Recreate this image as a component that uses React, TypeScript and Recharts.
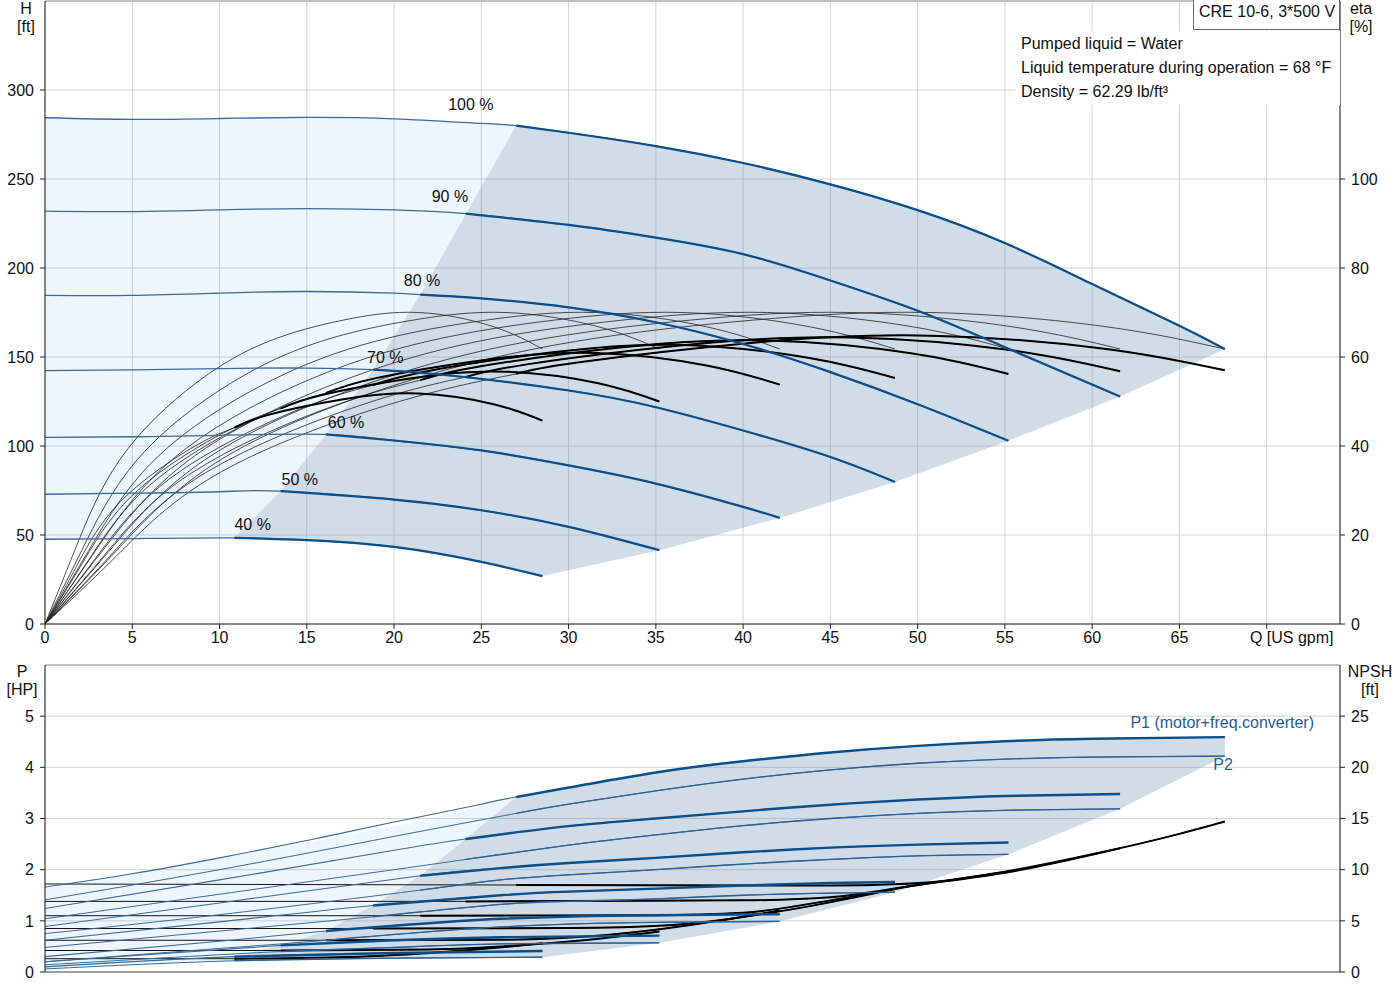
import React from 'react';
import {
  ComposedChart, Line, Area, XAxis, YAxis, CartesianGrid, ReferenceLine, ReferenceDot,
} from 'recharts';

const FONT = 'Arial, "Liberation Sans", sans-serif';
const BLUE = '#0b4f8a';
const BLUE_THIN = '#3a6a98';

// axis ticks
const qTicks = [0, 5, 10, 15, 20, 25, 30, 35, 40, 45, 50, 55, 60, 65, 70];
const hTicks = [0, 50, 100, 150, 200, 250, 300];
const etaTicks = [0, 20, 40, 60, 80, 100];
const pTicks = [0, 1, 2, 3, 4, 5];
const npshTicks = [0, 5, 10, 15, 20, 25];

// speed labels on the head curves
const speedNames = ['100 %', '90 %', '80 %', '70 %', '60 %', '50 %', '40 %'];
const labelQ = [24.4, 23.2, 21.6, 19.5, 17.25, 14.6, 11.9];
const labelH = [292, 240, 193, 150, 113, 81, 56];

// head curves (Q, H), split = index where the operating range starts
const hQ100 = [0, 5, 10, 15, 20, 25, 27, 30, 35, 40, 45, 50, 55, 60, 65, 67.6];
const hH100 = [284.4, 283.5, 284, 284.6, 283.8, 281.2, 280, 276, 268.5, 259, 247, 232.5, 214, 191, 167.5, 154.5];
const hQ90 = [0, 5, 10, 15, 20, 24.1, 30, 35, 40, 45, 50, 55, 61.6];
const hH90 = [232, 231.7, 232.6, 233.4, 232.6, 230.5, 224.2, 217.1, 207.8, 193, 176, 155.5, 127.8];
const hQ80 = [0, 5, 10, 15, 20, 21.5, 25, 30, 35, 40, 45, 50, 55.2];
const hH80 = [184.6, 184.6, 185.9, 186.8, 185.9, 185, 182.9, 177.9, 169.5, 157.3, 141.5, 123.5, 103];
const hQ70 = [0, 5, 10, 15, 18.8, 23.2, 30, 35, 40, 45, 48.7];
const hH70 = [142.4, 142.8, 143.5, 143.8, 142.9, 139.6, 131.2, 121.8, 108.7, 93.8, 79.8];
const hQ60 = [0, 5, 10, 16.1, 20, 25, 30, 35, 40, 42.1];
const hH60 = [104.8, 105.2, 106, 106.5, 103.1, 97.5, 89.1, 78.9, 65.8, 59.6];
const hQ50 = [0, 5, 10, 13.5, 20, 25, 30, 35.2];
const hH50 = [72.9, 73.5, 74.3, 74.6, 69.9, 63.9, 54.6, 41.5];
const hQ40 = [0, 5, 10.85, 15, 20, 25, 28.5];
const hH40 = [47.6, 48, 48.4, 47.1, 43.3, 34.9, 26.9];

// pump efficiency (thin curves)
const etaPumpVals = [0, 16.5, 37, 54, 63.5, 68.3, 70, 66.8, 61.8];
const epQ100 = [0, 4.1, 10.1, 20.3, 30.4, 40.6, 50.7, 60.8, 67.6];
const epQ90 = [0, 3.7, 9.2, 18.5, 27.7, 37.0, 46.2, 55.4, 61.6];
const epQ80 = [0, 3.3, 8.3, 16.6, 24.8, 33.1, 41.4, 49.7, 55.2];
const epQ70 = [0, 2.9, 7.3, 14.6, 21.9, 29.2, 36.5, 43.8, 48.7];
const epQ60 = [0, 2.5, 6.3, 12.6, 18.9, 25.3, 31.6, 37.9, 42.1];
const epQ50 = [0, 2.1, 5.3, 10.6, 15.8, 21.1, 26.4, 31.7, 35.2];
const epQ40 = [0, 1.7, 4.3, 8.6, 12.8, 17.1, 21.4, 25.7, 28.5];

// total efficiency (thick in operating range)
const etQ100 = [0, 4.1, 10.1, 20.3, 27.0, 30.4, 40.6, 50.7, 60.8, 67.6];
const etV100 = [0, 15.3, 34.2, 50.0, 56.2, 58.7, 63.2, 64.8, 61.8, 57.0];
const etQ90 = [0, 3.7, 9.2, 18.5, 24.1, 27.7, 37.0, 46.2, 55.4, 61.6];
const etV90 = [0, 15.2, 34.0, 49.7, 55.5, 58.4, 62.8, 64.4, 61.5, 56.8];
const etQ80 = [0, 3.3, 8.3, 16.6, 21.5, 24.8, 33.1, 41.4, 49.7, 55.2];
const etV80 = [0, 15.0, 33.7, 49.1, 54.8, 57.8, 62.2, 63.7, 60.8, 56.2];
const etQ70 = [0, 2.9, 7.3, 14.6, 18.8, 21.9, 29.2, 36.5, 43.8, 48.7];
const etV70 = [0, 14.8, 33.1, 48.3, 53.7, 56.8, 61.1, 62.7, 59.8, 55.3];
const etQ60 = [0, 2.5, 6.3, 12.6, 16.1, 18.9, 25.3, 31.6, 37.9, 42.1];
const etV60 = [0, 14.4, 32.2, 47.0, 51.9, 55.2, 59.4, 60.9, 58.1, 53.8];
const etQ50 = [0, 2.1, 5.3, 10.6, 13.5, 15.8, 21.1, 26.4, 31.7, 35.2];
const etV50 = [0, 13.4, 30.0, 43.7, 48.4, 51.4, 55.3, 56.7, 54.1, 50.0];
const etQ40 = [0, 1.7, 4.3, 8.6, 10.85, 12.8, 17.1, 21.4, 25.7, 28.5];
const etV40 = [0, 12.2, 27.4, 40.0, 44.1, 47.0, 50.5, 51.8, 49.4, 45.7];

// shaded ranges, upper chart
const lightQ = [0, 5, 10, 15, 20, 25, 27, 28.5, 30, 35.2, 40, 42.1, 45, 48.7, 50, 55.2, 60, 61.6, 65, 67.6];
const lightLo = [47.6, 48, 48.4, 47.1, 43.3, 34.9, 30.6, 26.9, 30.2, 41.5, 54.1, 59.6, 68.5, 79.8, 84.4, 103, 121.6, 127.8, 142.9, 154.5];
const lightHi = [284.4, 283.5, 284, 284.6, 283.8, 281.2, 280, 277.8, 276, 268.2, 259, 254.5, 247, 236.5, 232.5, 213.2, 191, 183.5, 167.5, 154.5];
const darkQ = [10.85, 13.5, 16.1, 18.8, 21.5, 24.1, 27, 28.5, 30, 35.2, 40, 42.1, 45, 48.7, 50, 55.2, 60, 61.6, 65, 67.6];
const darkLo = [48.4, 47.7, 46.5, 44.6, 41.5, 36.8, 30.6, 26.9, 30.2, 41.5, 54.1, 59.6, 68.5, 79.8, 84.4, 103, 121.6, 127.8, 142.9, 154.5];
const darkHi = [48.4, 74.6, 106.5, 142.9, 185, 230, 280, 277.8, 276, 268.2, 259, 254.5, 247, 236.5, 232.5, 213.2, 191, 183.5, 167.5, 154.5];

// power curves P1 / P2
const p1Q100 = [0, 5, 10, 15, 20, 25, 27, 35, 40, 45, 50, 55, 60, 67.6];
const p1V100 = [1.66, 1.92, 2.23, 2.57, 2.93, 3.28, 3.42, 3.9, 4.12, 4.29, 4.42, 4.51, 4.56, 4.59];
const p2Q100 = [0, 10, 20, 27, 30, 35, 40, 45, 50, 55, 60, 67.6];
const p2V100 = [1.41, 2.0, 2.65, 3.1, 3.28, 3.54, 3.77, 3.95, 4.08, 4.16, 4.2, 4.22];
const p1Q90 = [0, 10, 20, 24.1, 30, 35, 40, 45, 50, 55, 61.6];
const p1V90 = [1.24, 1.8, 2.38, 2.6, 2.85, 3.0, 3.14, 3.27, 3.37, 3.44, 3.48];
const p2Q90 = [0, 10, 20, 24.1, 30, 35, 40, 45, 50, 55, 61.6];
const p2V90 = [1.04, 1.52, 2.0, 2.2, 2.48, 2.68, 2.86, 3.0, 3.1, 3.16, 3.19];
const p1Q80 = [0, 10, 21.5, 26.1, 30, 35, 40, 45, 50, 55.2];
const p1V80 = [0.89, 1.35, 1.88, 2.03, 2.13, 2.23, 2.34, 2.43, 2.49, 2.53];
const p2Q80 = [0, 10, 21.5, 26.1, 30, 35, 40, 45, 50, 55.2];
const p2V80 = [0.75, 1.12, 1.6, 1.8, 1.9, 2.0, 2.11, 2.2, 2.27, 2.3];
const p1Q70 = [0, 10, 18.8, 26.1, 30, 35, 40, 45, 48.7];
const p1V70 = [0.62, 0.98, 1.3, 1.5, 1.57, 1.63, 1.69, 1.74, 1.76];
const p2Q70 = [0, 10, 18.8, 26.1, 30, 35, 40, 45, 48.7];
const p2V70 = [0.48, 0.8, 1.08, 1.32, 1.38, 1.43, 1.5, 1.54, 1.56];
const p1Q60 = [0, 10, 16.1, 26.1, 35, 42.1];
const p1V60 = [0.3, 0.6, 0.8, 1.04, 1.11, 1.13];
const p2Q60 = [0, 10, 16.1, 26.1, 35, 42.1];
const p2V60 = [0.2, 0.46, 0.62, 0.88, 0.97, 0.99];
const p1Q50 = [0, 13.5, 20, 26.1, 35.2];
const p1V50 = [0.2, 0.52, 0.62, 0.68, 0.71];
const p2Q50 = [0, 13.5, 20, 26.1, 35.2];
const p2V50 = [0.14, 0.4, 0.48, 0.55, 0.57];
const p1Q40 = [0, 10.85, 20, 28.5];
const p1V40 = [0.1, 0.3, 0.37, 0.41];
const p2Q40 = [0, 10.85, 20, 28.5];
const p2V40 = [0.06, 0.22, 0.27, 0.29];

// NPSH curves
const nQ100 = [0, 27, 45, 49, 52, 55, 60, 65, 67.6];
const nV100 = [8.6, 8.5, 8.45, 8.6, 9.0, 9.8, 11.5, 13.5, 14.7];
const nQ90 = [0, 24.1, 40, 45, 50, 55, 61.6];
const nV90 = [6.9, 6.9, 7.0, 7.3, 8.5, 9.7, 12.1];
const nQ80 = [0, 21.5, 35, 40, 45, 50, 55.2];
const nV80 = [5.5, 5.5, 5.55, 5.8, 7.0, 8.5, 9.8];
const nQ70 = [0, 18.8, 30, 36, 42, 48.7];
const nV70 = [4.25, 4.25, 4.3, 4.6, 5.9, 8.1];
const nQ60 = [0, 16.1, 26, 32, 37, 42.1];
const nV60 = [3.1, 3.1, 3.15, 3.6, 4.6, 6.0];
const nQ50 = [0, 13.5, 22, 28, 32, 35.2];
const nV50 = [2.1, 2.1, 2.2, 2.7, 3.3, 3.95];
const nQ40 = [0, 10.85, 18, 24, 28.5];
const nV40 = [1.3, 1.3, 1.5, 2.1, 2.8];

// shaded ranges, lower chart
const pLightQ = [0, 5, 10, 10.85, 13.5, 16.1, 18.8, 21.5, 24.1, 27, 28.5, 35.2, 40, 42.1, 45, 48.7, 50, 55.2, 60, 61.6, 67.6];
const pLightLo = [0.06, 0.14, 0.21, 0.22, 0.24, 0.255, 0.265, 0.275, 0.28, 0.287, 0.29, 0.57, 0.86, 0.99, 1.24, 1.56, 1.71, 2.3, 2.97, 3.19, 4.22];
const pLightHi = [1.66, 1.92, 2.23, 2.28, 2.44, 2.6, 2.77, 2.95, 3.16, 3.42, 3.5, 3.91, 4.12, 4.2, 4.29, 4.39, 4.42, 4.51, 4.56, 4.57, 4.59];
const pDarkQ = [10.85, 13.5, 16.1, 18.8, 21.5, 24.1, 27, 28.5, 35.2, 40, 42.1, 45, 48.7, 50, 55.2, 60, 61.6, 67.6];
const pDarkLo = [0.22, 0.24, 0.255, 0.265, 0.275, 0.28, 0.287, 0.29, 0.57, 0.86, 0.99, 1.24, 1.56, 1.71, 2.3, 2.97, 3.19, 4.22];
const pDarkHi = [0.3, 0.52, 0.8, 1.3, 1.88, 2.6, 3.42, 3.5, 3.91, 4.12, 4.2, 4.29, 4.39, 4.42, 4.51, 4.56, 4.57, 4.59];

const pts = (q: number[], v: number[]) => q.map((x, i) => ({ q: x, v: v[i] }));
const rng = (q: number[], lo: number[], hi: number[]) => q.map((x, i) => ({ q: x, r: [lo[i], hi[i]] }));

const headCurves = [
  { q: hQ100, v: hH100, s: 6 }, { q: hQ90, v: hH90, s: 5 }, { q: hQ80, v: hH80, s: 5 },
  { q: hQ70, v: hH70, s: 4 }, { q: hQ60, v: hH60, s: 3 }, { q: hQ50, v: hH50, s: 3 }, { q: hQ40, v: hH40, s: 2 },
];
const pumpEta = [epQ100, epQ90, epQ80, epQ70, epQ60, epQ50, epQ40];
const totalEta = [
  { q: etQ100, v: etV100, s: 4 }, { q: etQ90, v: etV90, s: 4 }, { q: etQ80, v: etV80, s: 4 },
  { q: etQ70, v: etV70, s: 4 }, { q: etQ60, v: etV60, s: 4 }, { q: etQ50, v: etV50, s: 4 }, { q: etQ40, v: etV40, s: 4 },
];
const p1Curves = [
  { q: p1Q100, v: p1V100, s: 6 }, { q: p1Q90, v: p1V90, s: 3 }, { q: p1Q80, v: p1V80, s: 2 },
  { q: p1Q70, v: p1V70, s: 2 }, { q: p1Q60, v: p1V60, s: 2 }, { q: p1Q50, v: p1V50, s: 1 }, { q: p1Q40, v: p1V40, s: 1 },
];
const p2Curves = [
  { q: p2Q100, v: p2V100, s: 3 }, { q: p2Q90, v: p2V90, s: 3 }, { q: p2Q80, v: p2V80, s: 2 },
  { q: p2Q70, v: p2V70, s: 2 }, { q: p2Q60, v: p2V60, s: 2 }, { q: p2Q50, v: p2V50, s: 1 }, { q: p2Q40, v: p2V40, s: 1 },
];
const npshCurves = [
  { q: nQ100, v: nV100, s: 1 }, { q: nQ90, v: nV90, s: 1 }, { q: nQ80, v: nV80, s: 1 }, { q: nQ70, v: nV70, s: 1 },
  { q: nQ60, v: nV60, s: 1 }, { q: nQ50, v: nV50, s: 1 }, { q: nQ40, v: nV40, s: 1 },
];

const tickStyle = { fontSize: 16, fill: '#111', fontFamily: FONT };

const QTick = (props: any) => {
  const { x, y, payload } = props;
  if (payload.value === 70) {
    return <text x={x + 25} y={y} dy="0.71em" textAnchor="middle" style={tickStyle}>Q [US gpm]</text>;
  }
  return <text x={x} y={y} dy="0.71em" textAnchor="middle" style={tickStyle}>{payload.value}</text>;
};

const textLabel = (txt: string, color = '#111') => (p: any) => (
  <text x={p.cx} y={p.cy} textAnchor="middle" dominantBaseline="central" style={{ ...tickStyle, fill: color }}>{txt}</text>
);

function splitLines(curves: any[], yId: string | number, thin: any, thick: any, prefix: string, curve: any = 'natural') {
  const out: any[] = [];
  curves.forEach((c, i) => {
    const all = pts(c.q, c.v);
    out.push(<Line key={`${prefix}t${i}`} data={all} dataKey="v" yAxisId={yId} type={curve} dot={false}
      activeDot={false} isAnimationActive={false} {...thin} />);
    out.push(<Line key={`${prefix}k${i}`} data={all.slice(c.s)} dataKey="v" yAxisId={yId} type={curve} dot={false}
      activeDot={false} isAnimationActive={false} {...thick} />);
  });
  return out;
}

const abs = (left: number, top: number, extra: any = {}) => ({
  position: 'absolute' as const, left, top, fontFamily: FONT, fontSize: 16, color: '#111', lineHeight: '18px', ...extra,
});

export default function App() {
  return (
    <div style={{ position: 'absolute', left: 0, top: 0, width: 1400, height: 1000, background: '#fff', overflow: 'hidden' }}>
      <div style={{ position: 'absolute', left: 0, top: 0 }}>
        <ComposedChart width={1400} height={660} margin={{ top: 1, right: 0, bottom: 0, left: 0 }}>
          <CartesianGrid stroke="#d4d4d4" />
          <XAxis type="number" dataKey="q" domain={[0, 74.2]} ticks={qTicks} height={36} tickSize={5} tickMargin={3}
            tick={<QTick />} axisLine={{ stroke: '#222' }} tickLine={{ stroke: '#222' }} allowDataOverflow />
          <YAxis type="number" domain={[0, 350]} ticks={hTicks} width={45} tickSize={5} tickMargin={6}
            tick={tickStyle} axisLine={{ stroke: '#222' }} tickLine={{ stroke: '#222' }} />
          <YAxis yAxisId="r" orientation="right" type="number" domain={[0, 140]} ticks={etaTicks} width={60}
            tickSize={5} tickMargin={6} tick={tickStyle} axisLine={{ stroke: '#222' }} tickLine={{ stroke: '#222' }} />
          <ReferenceLine y={350} stroke="#999" />
          <Area data={rng(lightQ, lightLo, lightHi)} dataKey="r" type="linear" stroke="none" fill="rgb(43,142,230)"
            fillOpacity={0.08} isAnimationActive={false} activeDot={false} />
          <Area data={rng(darkQ, darkLo, darkHi)} dataKey="r" type="linear" stroke="none" fill="rgb(118,142,169)"
            fillOpacity={0.25} isAnimationActive={false} activeDot={false} />
          {pumpEta.map((q, i) => (
            <Line key={`ep${i}`} data={pts(q, etaPumpVals)} dataKey="v" yAxisId="r" type="natural" dot={false}
              activeDot={false} isAnimationActive={false} stroke="#222" strokeWidth={0.8} />
          ))}
          {splitLines(totalEta, 'r', { stroke: '#222', strokeWidth: 0.8 }, { stroke: '#000', strokeWidth: 2 }, 'et')}
          {splitLines(headCurves, 0, { stroke: BLUE_THIN, strokeWidth: 1.3 }, { stroke: BLUE, strokeWidth: 2.2 }, 'h')}
          {speedNames.map((n, i) => (
            <ReferenceDot key={`lab${i}`} x={labelQ[i]} y={labelH[i]} r={1} shape={textLabel(n)} />
          ))}
        </ComposedChart>
      </div>

      <div style={{ position: 'absolute', left: 0, top: 664 }}>
        <ComposedChart width={1400} height={336} margin={{ top: 1, right: 0, bottom: 0, left: 0 }}>
          <CartesianGrid stroke="#d4d4d4" />
          <XAxis type="number" dataKey="q" domain={[0, 74.2]} ticks={qTicks} height={28} tick={false} tickLine={false}
            axisLine={{ stroke: '#555' }} allowDataOverflow />
          <YAxis type="number" domain={[0, 6]} ticks={pTicks} width={45} tickSize={5} tickMargin={6}
            tick={tickStyle} axisLine={{ stroke: '#222' }} tickLine={{ stroke: '#222' }} />
          <YAxis yAxisId="r" orientation="right" type="number" domain={[0, 30]} ticks={npshTicks} width={60}
            tickSize={5} tickMargin={6} tick={tickStyle} axisLine={{ stroke: '#222' }} tickLine={{ stroke: '#222' }} />
          <ReferenceLine y={6} stroke="#999" />
          <Area data={rng(pLightQ, pLightLo, pLightHi)} dataKey="r" type="linear" stroke="none" fill="rgb(43,142,230)"
            fillOpacity={0.08} isAnimationActive={false} activeDot={false} />
          <Area data={rng(pDarkQ, pDarkLo, pDarkHi)} dataKey="r" type="linear" stroke="none" fill="rgb(118,142,169)"
            fillOpacity={0.25} isAnimationActive={false} activeDot={false} />
          {splitLines(npshCurves, 'r', { stroke: '#111', strokeWidth: 1 }, { stroke: '#000', strokeWidth: 2 }, 'n', 'monotone')}
          {splitLines(p2Curves, 0, { stroke: BLUE_THIN, strokeWidth: 1 }, { stroke: '#2c6096', strokeWidth: 1.3 }, 'p2')}
          {splitLines(p1Curves, 0, { stroke: BLUE_THIN, strokeWidth: 1.1 }, { stroke: BLUE, strokeWidth: 2.4 }, 'p1')}
          <ReferenceDot x={67.45} y={4.88} r={1} shape={textLabel('P1 (motor+freq.converter)', '#1f5c9a')} />
          <ReferenceDot x={67.5} y={4.06} r={1} shape={textLabel('P2', '#1f5c9a')} />
        </ComposedChart>
      </div>

      {/* axis titles */}
      <div style={abs(16, 0, { textAlign: 'center', width: 20 })}>H<br />[ft]</div>
      <div style={abs(1344, 0, { textAlign: 'center', width: 34 })}>eta<br />[%]</div>
      <div style={abs(2, 663, { textAlign: 'center', width: 40 })}>P<br />[HP]</div>
      <div style={abs(1344, 663, { textAlign: 'center', width: 52 })}>NPSH<br />[ft]</div>

      {/* info box */}
      <div style={abs(1015, 31, { width: 325, height: 74, background: '#fff' })} />
      <div style={abs(1021, 35)}>Pumped liquid = Water</div>
      <div style={abs(1021, 59)}>Liquid temperature during operation = 68 °F</div>
      <div style={abs(1021, 83)}>Density = 62.29 lb/ft³</div>
      <div style={abs(1193, -1, { width: 147, height: 31, border: '1px solid #666', background: '#fff', boxSizing: 'border-box', paddingLeft: 5, paddingTop: 3 })}>
        CRE 10-6, 3*500 V
      </div>
    </div>
  );
}
